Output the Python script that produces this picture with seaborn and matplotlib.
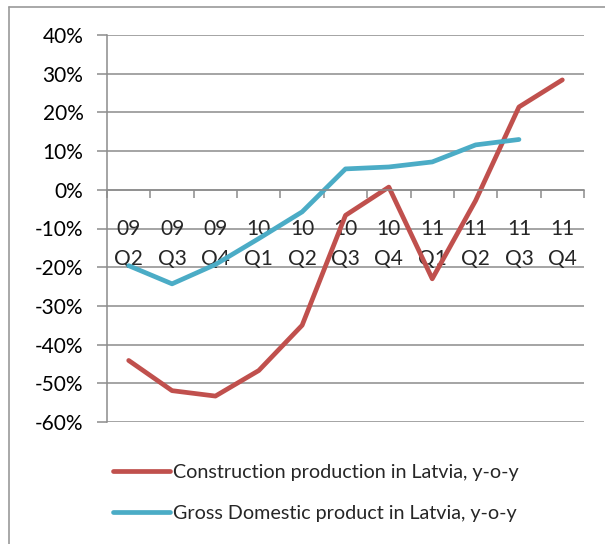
import numpy as np
import pandas as pd
import matplotlib.pyplot as plt
import seaborn as sns
from matplotlib.ticker import FixedLocator, FuncFormatter
from matplotlib.lines import Line2D

quarters=['09\nQ2', '09\nQ3', '09\nQ4', '10\nQ1', '10\nQ2', '10\nQ3',
          '10\nQ4', '11\nQ1', '11\nQ2', '11\nQ3', '11\nQ4']
construction=[-44.1, -51.9, -53.3, -46.7, -35.0, -6.6, 0.7, -23.0, -2.8, 21.4, 28.4]
gdp=[-19.6, -24.3, -19.3, -12.6, -5.7, 5.4, 5.9, 7.2, 11.6, 13.0, np.nan]
yticks=[40, 30, 20, 10, 0, -10, -20, -30, -40, -50, -60]

red='#C0504D'
blue='#4BACC6'
grid='#8C8C8C'

sns.set_style('white')
plt.rcParams['font.family']=['Lato', 'DejaVu Sans']

df=pd.DataFrame({'pos': np.arange(len(quarters)),
                 'construction': construction, 'gdp': gdp})

fig=plt.figure(figsize=(6.05, 5.44), dpi=100)
ax=fig.add_axes([107/605, 1-422/544, 477/605, 387/544])

sns.lineplot(data=df, x='pos', y='construction', ax=ax, color=red, lw=3.4)
sns.lineplot(data=df.dropna(), x='pos', y='gdp', ax=ax, color=blue, lw=3.4)

ax.set_xlim(-0.5, len(quarters)-0.5)
ax.set_ylim(-60, 40)
ax.set_yticks(yticks)
ax.yaxis.set_major_formatter(FuncFormatter(lambda v, p: f'{v:.0f}%'))
for v in yticks:
    ax.axhline(v, color=grid, lw=1.1, zorder=0)
ax.tick_params(axis='y', length=7, width=1.1, color=grid, labelsize=15,
               labelcolor='black', pad=10, direction='out', left=True)

# category axis sits on the zero line
ax.spines['bottom'].set_position(('data', 0))
ax.spines['bottom'].set_color(grid)
ax.spines['bottom'].set_linewidth(1.1)
ax.spines['left'].set_color(grid)
ax.spines['left'].set_linewidth(1.1)
ax.spines['top'].set_visible(False)
ax.spines['right'].set_visible(False)
ax.xaxis.set_major_locator(FixedLocator(np.arange(len(quarters)+1)-0.5))
ax.xaxis.set_minor_locator(FixedLocator(np.arange(len(quarters))))
ax.set_xticklabels([], minor=False)
ax.set_xticklabels(quarters, minor=True)
ax.tick_params(axis='x', which='major', length=6, width=1.1, color=grid,
               direction='out', bottom=True)
ax.tick_params(axis='x', which='minor', length=0, labelsize=15, pad=21,
               bottom=True)
for t in ax.get_xticklabels(minor=True):
    t.set_linespacing(1.6)
ax.set_xlabel('')
ax.set_ylabel('')

handles=[Line2D([], [], color=red, lw=3.4), Line2D([], [], color=blue, lw=3.4)]
fig.legend(handles, ['Construction production in Latvia, y-o-y',
                     'Gross Domestic product in Latvia, y-o-y'],
           loc='upper left', bbox_to_anchor=(113/605, 1-464/544), frameon=False,
           fontsize=14.2, handlelength=2.9, handletextpad=0.15, labelspacing=1.2,
           borderpad=0, borderaxespad=0)

# chart area border (top and left edges visible)
fig.add_artist(Line2D([9/605, 9/605], [0, 1-7/544], color='#9A9A9A', lw=1.2))
fig.add_artist(Line2D([9/605, 1], [1-7/544, 1-7/544], color='#9A9A9A', lw=1.2))

fig.savefig('out.png', dpi=100)
plt.close(fig)
